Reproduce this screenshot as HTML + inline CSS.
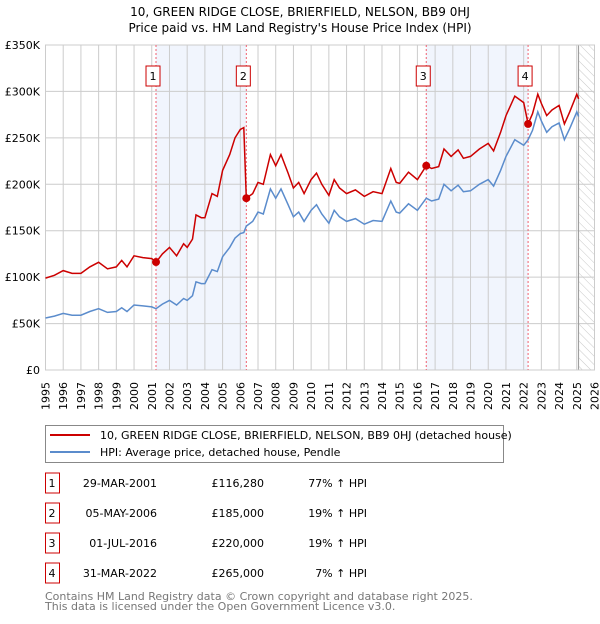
<!DOCTYPE html>
<html><head><meta charset="utf-8"><style>
body{margin:0;background:#fff;font-family:"DejaVu Sans","Liberation Sans",sans-serif;}
svg text{font-family:"DejaVu Sans","Liberation Sans",sans-serif;}
</style></head><body>
<svg id="c" width="600" height="620" viewBox="0 0 600 620" xmlns="http://www.w3.org/2000/svg">
<defs><pattern id="hatch" width="6" height="6" patternUnits="userSpaceOnUse" patternTransform="rotate(-45)"><line x1="0" y1="0" x2="0" y2="6" stroke="#bbb" stroke-width="0.8"/></pattern></defs>
<text x="300" y="16" text-anchor="middle" font-size="12">10, GREEN RIDGE CLOSE, BRIERFIELD, NELSON, BB9 0HJ</text>
<text x="300" y="32" text-anchor="middle" font-size="12">Price paid vs. HM Land Registry's House Price Index (HPI)</text>
<g id="plot"></g>
<g>
<rect x="45.5" y="425.5" width="458" height="37" fill="#fff" stroke="#888"/>
<line x1="50" y1="435" x2="90" y2="435" stroke="#cc0000" stroke-width="2"/>
<text x="100" y="439" font-size="11">10, GREEN RIDGE CLOSE, BRIERFIELD, NELSON, BB9 0HJ (detached house)</text>
<line x1="50" y1="452" x2="90" y2="452" stroke="#5b8ccc" stroke-width="2"/>
<text x="100" y="456" font-size="11">HPI: Average price, detached house, Pendle</text>
</g>
<g id="table" font-size="11"></g>
<text x="45" y="600" font-size="11" fill="#777">Contains HM Land Registry data © Crown copyright and database right 2025.</text>
<text x="45" y="610" font-size="11" fill="#777">This data is licensed under the Open Government Licence v3.0.</text>
</svg>
<script>
const years=[1995.0,1995.5,1996.0,1996.5,1997.0,1997.5,1998.0,1998.5,1999.0,1999.3,1999.6,2000.0,2000.5,2001.0,2001.24,2001.6,2002.0,2002.4,2002.8,2003.0,2003.3,2003.5,2003.8,2004.0,2004.4,2004.7,2005.0,2005.4,2005.7,2006.0,2006.2,2006.34,2006.7,2007.0,2007.3,2007.7,2008.0,2008.3,2008.7,2009.0,2009.3,2009.6,2010.0,2010.3,2010.6,2011.0,2011.3,2011.6,2012.0,2012.5,2013.0,2013.5,2014.0,2014.5,2014.8,2015.0,2015.5,2016.0,2016.5,2016.8,2017.2,2017.5,2017.9,2018.3,2018.6,2019.0,2019.5,2020.0,2020.3,2020.7,2021.0,2021.5,2022.0,2022.25,2022.5,2022.8,2023.0,2023.3,2023.6,2024.0,2024.3,2024.6,2025.0,2025.1];
const hpi=[56,58,61,59,59,63,66,62,63,67,63,70,69,68,66,71,75,70,77,75,80,95,93,93,108,106,122,132,142,147,148,155,160,170,168,195,185,195,178,165,170,160,172,178,168,158,172,165,160,163,157,161,160,182,170,169,179,172,185,182,184,200,193,199,192,193,200,205,198,215,230,248,242,248,258,278,268,256,262,266,248,260,278,273];
const paid=[99,102,107,104,104,111,116,109,111,118,111,123,121,120,116,125,132,123,136,132,141,167,164,164,190,187,215,232,250,259,261,185,190,202,200,232,220,232,212,196,202,190,205,212,200,188,205,196,190,194,187,192,190,217,202,201,213,205,220,217,219,238,230,237,228,230,238,244,236,256,274,295,288,265,276,297,287,274,280,285,265,278,297,292];
const saleYears=[2001.24,2006.34,2016.5,2022.25];
const saleValues=[116.28,185,220,265];
const saleLabels=["1","2","3","4"];
const saleDates=["29-MAR-2001","05-MAY-2006","01-JUL-2016","31-MAR-2022"];
const salePrices=["£116,280","£185,000","£220,000","£265,000"];
const salePct=["77% ↑ HPI","19% ↑ HPI","19% ↑ HPI","7% ↑ HPI"];
const yTicks=[0,50,100,150,200,250,300,350];
const yTickLabels=["£0","£50K","£100K","£150K","£200K","£250K","£300K","£350K"];
const xTicks=[1995,1996,1997,1998,1999,2000,2001,2002,2003,2004,2005,2006,2007,2008,2009,2010,2011,2012,2013,2014,2015,2016,2017,2018,2019,2020,2021,2022,2023,2024,2025,2026];
const dataEnd=2025.1;

const X0=45.5,X1=594.5,Y0=370,Y1=45;
const sx=y=>X0+(y-1995)/(2026-1995)*(X1-X0);
const sy=v=>Y0-v/350*(Y0-Y1);
const NS="http://www.w3.org/2000/svg";
const plot=document.getElementById('plot');
function mk(tag,attrs,parent){const e=document.createElementNS(NS,tag);for(const k in attrs)e.setAttribute(k,attrs[k]);(parent||plot).appendChild(e);return e;}
for(let i=0;i<4;i+=2){const r=mk('rect',{x:sx(saleYears[i]),y:Y1,width:sx(saleYears[i+1])-sx(saleYears[i]),height:Y0-Y1,fill:'#eef3fc',opacity:0.8});

}
const h=mk('rect',{x:sx(dataEnd),y:Y1,width:X1-sx(dataEnd),height:Y0-Y1,fill:'url(#hatch)'});


xTicks.forEach((t,i)=>{const l=mk('line',{x1:sx(t),x2:sx(t),y1:Y1,y2:Y0,stroke:'#ccc','stroke-width':1});


const x=sx(t)+4;
const tx=mk('text',{x:x,y:382,'text-anchor':'end','font-size':11,transform:'rotate(-90 '+x+' 382)'});tx.textContent=t;

});
yTicks.forEach((t,i)=>{const l=mk('line',{x1:X0,x2:X1,y1:sy(t),y2:sy(t),stroke:'#ccc','stroke-width':1});


const tx=mk('text',{x:40,y:sy(t)+4,'text-anchor':'end','font-size':11});tx.textContent=yTickLabels[i];

});
const vl=mk('line',{x1:sx(dataEnd),x2:sx(dataEnd),y1:Y1,y2:Y0,stroke:'#999','stroke-width':1});


const fr=mk('rect',{x:X0,y:Y1,width:X1-X0,height:Y0-Y1,fill:'none',stroke:'#ccc'});


saleYears.forEach((s,i)=>{const l=mk('line',{x1:sx(s),x2:sx(s),y1:Y1,y2:Y0,stroke:'#f06070','stroke-width':1,'stroke-dasharray':'2,2'});


const b=mk('rect',{x:sx(s)-10,y:66,width:14,height:20,fill:'#fff',stroke:'#cc0000'});


const t=mk('text',{x:sx(s)-3,y:80,'text-anchor':'middle','font-size':11});t.textContent=saleLabels[i];

});
const pts=a=>years.map((y,i)=>sx(y).toFixed(1)+','+sy(a[i]).toFixed(1)).join(' ');
const lb=mk('polyline',{points:pts(hpi),fill:'none',stroke:'#5b8ccc','stroke-width':1.5});


const lr=mk('polyline',{points:pts(paid),fill:'none',stroke:'#cc0000','stroke-width':1.5});


saleYears.forEach((s,i)=>{const c=mk('circle',{cx:sx(s),cy:sy(saleValues[i]),r:4,fill:'#cc0000'});

});
const tb=document.getElementById('table');
saleLabels.forEach((l,i)=>{const cy=483+i*30;
const r=mk('rect',{x:45.5,y:cy-10,width:14,height:20,fill:'#fff',stroke:'#cc0000'},tb);


const cells=[[52,'middle',l],[157,'end',saleDates[i]],[264,'end',salePrices[i]],[367,'end',salePct[i]]];
cells.forEach(c=>{const t=mk('text',{x:c[0],y:cy+4,'text-anchor':c[1]},tb);t.textContent=c[2];

});});
</script>
</body></html>
